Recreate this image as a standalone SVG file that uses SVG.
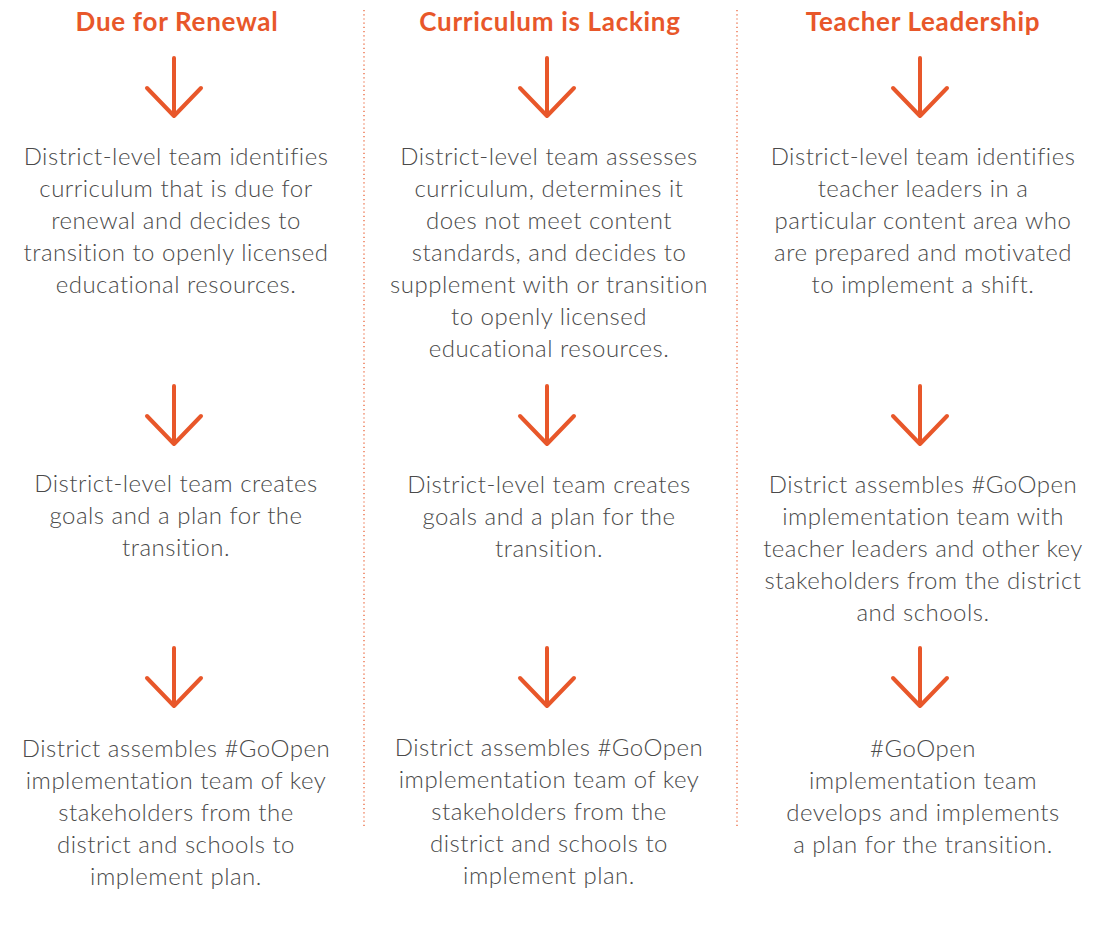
<svg xmlns="http://www.w3.org/2000/svg" width="1093" height="951" viewBox="0 0 1093 951">
<style>
.h{font-family:"Lato","Open Sans",sans-serif;font-weight:700;font-size:26px;letter-spacing:0.7px;fill:#E8572A;text-anchor:middle}
.t{font-family:"Lato","Open Sans",sans-serif;font-weight:300;font-size:24px;letter-spacing:0.5px;fill:#4a4a4a;text-anchor:middle}
.a{fill:none;stroke:#E8572A;stroke-width:4;stroke-linecap:round;stroke-linejoin:round}
.d{stroke:#E8572A;stroke-width:1.2;stroke-dasharray:1.2 3;fill:none}
</style>
<defs>
<path id="arr" class="a" d="M0 0V58M-27 30L0 58L27 30"/>
</defs>
<rect width="1093" height="951" fill="#fff"/>
<g id="dividers">
<line class="d" x1="364" y1="10" x2="364" y2="826"/>
<line class="d" x1="737" y1="10" x2="737" y2="826"/>
</g>
<g id="connectors">
<use href="#arr" x="174" y="58"/>
<use href="#arr" x="174" y="386"/>
<use href="#arr" x="174" y="648"/>
<use href="#arr" x="547" y="58"/>
<use href="#arr" x="547" y="386"/>
<use href="#arr" x="547" y="648"/>
<use href="#arr" x="920" y="58"/>
<use href="#arr" x="920" y="386"/>
<use href="#arr" x="920" y="648"/>
</g>
<g id="h1"><text class="h" x="177" y="31">Due for Renewal</text></g>
<g id="h2"><text class="h" x="550" y="31">Curriculum is Lacking</text></g>
<g id="h3"><text class="h" x="923" y="31">Teacher Leadership</text></g>
<g id="c1n1"><text class="t" x="176" y="165">District-level team identifies<tspan x="176" dy="32">curriculum that is due for</tspan><tspan x="176" dy="32">renewal and decides to</tspan><tspan x="176" dy="32">transition to openly licensed</tspan><tspan x="176" dy="32">educational resources.</tspan></text></g>
<g id="c1n2"><text class="t" x="176" y="492">District-level team creates<tspan x="176" dy="32">goals and a plan for the</tspan><tspan x="176" dy="32">transition.</tspan></text></g>
<g id="c1n3"><text class="t" x="176" y="757">District assembles #GoOpen<tspan x="176" dy="32">implementation team of key</tspan><tspan x="176" dy="32">stakeholders from the</tspan><tspan x="176" dy="32">district and schools to</tspan><tspan x="176" dy="32">implement plan.</tspan></text></g>
<g id="c2n1"><text class="t" x="549" y="165">District-level team assesses<tspan x="549" dy="32">curriculum, determines it</tspan><tspan x="549" dy="32">does not meet content</tspan><tspan x="549" dy="32">standards, and decides to</tspan><tspan x="549" dy="32">supplement with or transition</tspan><tspan x="549" dy="32">to openly licensed</tspan><tspan x="549" dy="32">educational resources.</tspan></text></g>
<g id="c2n2"><text class="t" x="549" y="493">District-level team creates<tspan x="549" dy="32">goals and a plan for the</tspan><tspan x="549" dy="32">transition.</tspan></text></g>
<g id="c2n3"><text class="t" x="549" y="756">District assembles #GoOpen<tspan x="549" dy="32">implementation team of key</tspan><tspan x="549" dy="32">stakeholders from the</tspan><tspan x="549" dy="32">district and schools to</tspan><tspan x="549" dy="32">implement plan.</tspan></text></g>
<g id="c3n1"><text class="t" x="923" y="165">District-level team identifies<tspan x="923" dy="32">teacher leaders in a</tspan><tspan x="923" dy="32">particular content area who</tspan><tspan x="923" dy="32">are prepared and motivated</tspan><tspan x="923" dy="32">to implement a shift.</tspan></text></g>
<g id="c3n2"><text class="t" x="923" y="493">District assembles #GoOpen<tspan x="923" dy="32">implementation team with</tspan><tspan x="923" dy="32">teacher leaders and other key</tspan><tspan x="923" dy="32">stakeholders from the district</tspan><tspan x="923" dy="32">and schools.</tspan></text></g>
<g id="c3n3"><text class="t" x="923" y="757">#GoOpen<tspan x="923" dy="32">implementation team</tspan><tspan x="923" dy="32">develops and implements</tspan><tspan x="923" dy="32">a plan for the transition.</tspan></text></g>
</svg>
